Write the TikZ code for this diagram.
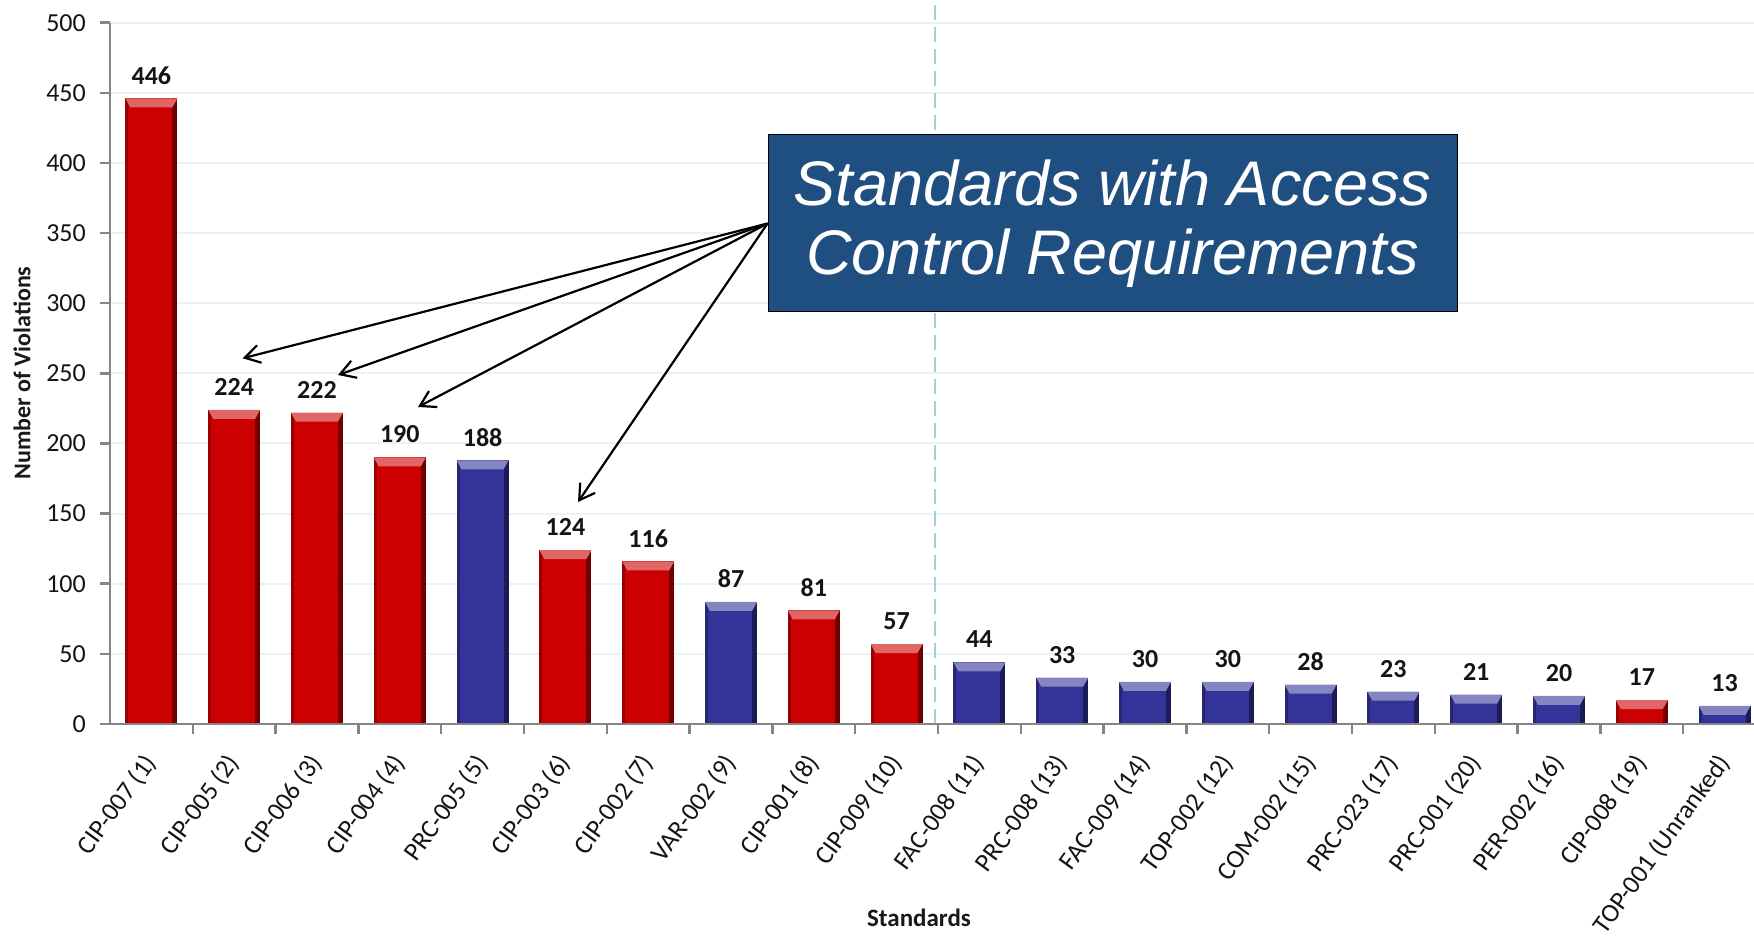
\documentclass[tikz,border=0pt]{standalone}
\usepackage{fontspec}
\setmainfont{Carlito}
\newfontfamily\notefont{Liberation Sans}
\usetikzlibrary{arrows.meta}
\definecolor{cipred}{RGB}{204,0,0}
\definecolor{stdblue}{RGB}{51,51,153}
\definecolor{notebox}{RGB}{31,78,128}
\definecolor{gridcol}{RGB}{232,243,245}
\definecolor{splitcol}{RGB}{160,210,214}
\tikzset{axis/.style={draw=black!48, line width=2.5pt}}
\tikzset{tick label/.style={text=black!92, font=\fontsize{26}{30}\selectfont, inner sep=0pt}}
\tikzset{value/.style={text=black!92, font=\bfseries\fontsize{26}{30}\selectfont, inner sep=0pt}}
\tikzset{note/.style={fill=notebox, draw=black, line width=1pt, text=white, align=center,
    minimum width=689pt, minimum height=177pt, inner sep=0pt,
    font=\notefont\itshape\fontsize{63}{69}\selectfont}}
\tikzset{pointer/.style={-{Straight Barb[length=15pt,width=18pt]}, line width=2.2pt}}

\begin{document}
\begin{tikzpicture}[x=1pt,y=1pt]
    \useasboundingbox (-110,-223) rectangle (1644,724);
    % grid and split line
    \foreach \k in {1,...,10}
        \draw [gridcol, line width=2pt] (0,70.13*\k) -- (1644,70.13*\k);
    \draw [splitcol, line width=2.8pt, dash pattern=on 15pt off 7pt] (825,0) -- (825,724);
    % bars
    \foreach \i/\v/\c/\lab in {1/446/cipred/CIP-007 (1), 2/224/cipred/CIP-005 (2),
        3/222/cipred/CIP-006 (3), 4/190/cipred/CIP-004 (4), 5/188/stdblue/PRC-005 (5),
        6/124/cipred/CIP-003 (6), 7/116/cipred/CIP-002 (7), 8/87/stdblue/VAR-002 (9),
        9/81/cipred/CIP-001 (8), 10/57/cipred/CIP-009 (10), 11/44/stdblue/FAC-008 (11),
        12/33/stdblue/PRC-008 (13), 13/30/stdblue/FAC-009 (14), 14/30/stdblue/TOP-002 (12),
        15/28/stdblue/COM-002 (15), 16/23/stdblue/PRC-023 (17), 17/21/stdblue/PRC-001 (20),
        18/20/stdblue/PER-002 (16), 19/17/cipred/CIP-008 (19), 20/13/stdblue/TOP-001 (Unranked)} {
        \pgfmathsetmacro\xc{82.8*(\i-0.5)}
        \pgfmathsetmacro\h{1.4026*\v}
        \fill [fill=\c] (\xc-26,0) rectangle (\xc+26,\h);
        \fill [fill=\c!55!black] (\xc+21,0) rectangle (\xc+26,\h);
        \fill [fill=\c!75!black] (\xc-26,0) rectangle (\xc-23,\h);
        \fill [fill=\c!60!white] (\xc-26,\h) -- (\xc+26,\h) -- (\xc+21,\h-9) -- (\xc-21,\h-9) -- cycle;
        \node [value] (v\i) at (\xc,\h+23) {\v};
        \node [tick label, rotate=54, anchor=east] (x\i) at (\xc,-34) {\lab};
    }
    % axes
    \draw [axis] (0,0) -- (0,701.3);
    \draw [axis] (-10,0) -- (1644,0);
    \foreach \k [evaluate=\k as \n using int(50*\k)] in {0,...,10} {
        \draw [axis] (-10,70.13*\k) -- (0,70.13*\k);
        \node [tick label, anchor=east] (y\k) at (-24,70.13*\k) {\n};
    }
    \foreach \k in {1,...,19}
        \draw [axis] (82.8*\k,0) -- ++(0,-10);
    \node [text=black!90, font=\bfseries\fontsize{24}{28}\selectfont, rotate=90] (ytitle) at (-88,351) {Number of Violations};
    \node [text=black!90, font=\bfseries\fontsize{25}{29}\selectfont] (xtitle) at (809,-194) {Standards};
    % callout
    \node [note] (note) at (1002.5,500.5) {Standards with Access\\Control Requirements};
    \coordinate (t1) at (132.7,365.7);
    \coordinate (t2) at (228,349);
    \coordinate (t3) at (308,317);
    \coordinate (t4) at (468,222);
    \foreach \t in {t1,t2,t3,t4}
        \draw [pointer] (note.west) -- (\t);
\end{tikzpicture}
\end{document}
